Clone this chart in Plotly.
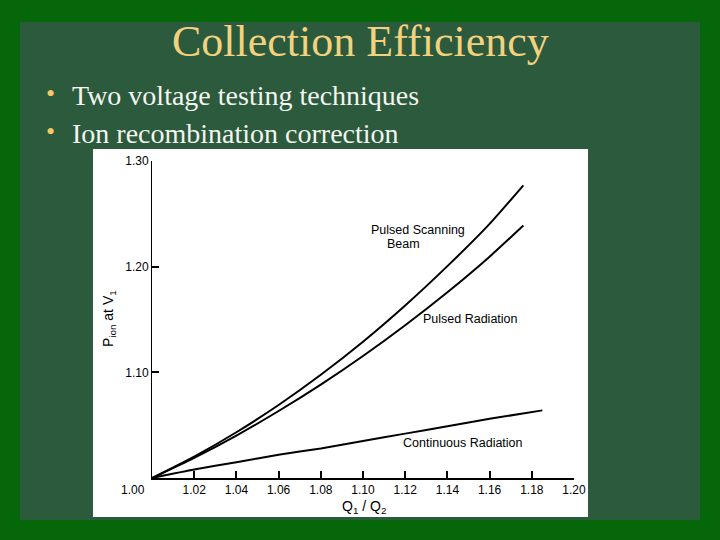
import plotly.graph_objects as go

# ---- data ----
x_upper = [1.00, 1.02, 1.04, 1.06, 1.08, 1.10, 1.12, 1.14, 1.16, 1.176]
y_scanning = [1.000, 1.0203, 1.0433, 1.0691, 1.0977, 1.129, 1.1633, 1.2005, 1.2405, 1.277]
y_pulsed = [1.000, 1.0191, 1.0402, 1.0634, 1.0884, 1.1155, 1.1446, 1.1758, 1.2095, 1.239]
x_cont = [1.00, 1.02, 1.04, 1.06, 1.08, 1.10, 1.12, 1.14, 1.16, 1.185]
y_cont = [1.000, 1.008, 1.015, 1.022, 1.028, 1.035, 1.042, 1.049, 1.056, 1.064]

x_ticks = [1.02, 1.04, 1.06, 1.08, 1.10, 1.12, 1.14, 1.16, 1.18, 1.20]
x_tick_text = ["1.02", "1.04", "1.06", "1.08", "1.10", "1.12", "1.14", "1.16", "1.18", "1.20"]
y_ticks = [1.10, 1.20, 1.30]
y_tick_text = ["1.10", "1.20", "1.30"]

W, H = 720, 540


def px(xp):
    return xp / W


def py(yp):
    return 1 - yp / H


fig = go.Figure()
line_style = dict(color="black", width=2, shape="spline", smoothing=0.6)
fig.add_trace(go.Scatter(x=x_upper, y=y_scanning, mode="lines", line=line_style, showlegend=False))
fig.add_trace(go.Scatter(x=x_upper, y=y_pulsed, mode="lines", line=line_style, showlegend=False))
fig.add_trace(go.Scatter(x=x_cont, y=y_cont, mode="lines", line=line_style, showlegend=False))

shapes = [
    # marble area
    dict(type="rect", xref="paper", yref="paper", x0=px(20), x1=px(700), y0=py(520), y1=py(22),
         fillcolor="#2b5a3d", line=dict(width=0), layer="below"),
    # white inset
    dict(type="rect", xref="paper", yref="paper", x0=px(93), x1=px(588), y0=py(517), y1=py(149),
         fillcolor="white", line=dict(width=0), layer="below"),
]

tick_font = dict(family="Liberation Sans, Arial, sans-serif", size=12, color="black")
label_font = dict(family="Liberation Sans, Arial, sans-serif", size=12.5, color="black")
serif = "Liberation Serif, Times New Roman, serif"

annotations = [
    dict(text="Collection Efficiency", xref="paper", yref="paper", x=px(360), y=py(42),
         showarrow=False, font=dict(family=serif, size=44, color="#f2d27e"),
         xanchor="center", yanchor="middle"),
    dict(text="•", xref="paper", yref="paper", x=px(50), y=py(93), showarrow=False,
         font=dict(family=serif, size=26, color="#f2c86a"), xanchor="center", yanchor="middle"),
    dict(text="Two voltage testing techniques", xref="paper", yref="paper", x=px(70), y=py(95),
         showarrow=False, font=dict(family=serif, size=28, color="#f4f4f0"),
         xanchor="left", yanchor="middle"),
    dict(text="•", xref="paper", yref="paper", x=px(50), y=py(131), showarrow=False,
         font=dict(family=serif, size=26, color="#f2c86a"), xanchor="center", yanchor="middle"),
    dict(text="Ion recombination correction", xref="paper", yref="paper", x=px(70), y=py(134),
         showarrow=False, font=dict(family=serif, size=28, color="#f4f4f0"),
         xanchor="left", yanchor="middle"),
    # corner label
    dict(text="1.00", xref="paper", yref="paper", x=px(133), y=py(490), showarrow=False,
         font=tick_font, xanchor="center", yanchor="middle"),
    # axis titles
    dict(text="P<sub>ion</sub> at V<sub>1</sub>", xref="paper", yref="paper", x=px(109), y=py(318),
         showarrow=False, textangle=-90,
         font=dict(family="Liberation Sans, Arial, sans-serif", size=14, color="black"),
         xanchor="center", yanchor="middle"),
    dict(text="Q<sub>1</sub> / Q<sub>2</sub>", xref="paper", yref="paper", x=px(364), y=py(507),
         showarrow=False, font=dict(family="Liberation Sans, Arial, sans-serif", size=14,
                                    color="black"), xanchor="center", yanchor="middle"),
    # curve labels
    dict(text="Pulsed Scanning", xref="paper", yref="paper", x=px(418), y=py(230), showarrow=False,
         font=label_font, xanchor="center", yanchor="middle"),
    dict(text="Beam", xref="paper", yref="paper", x=px(403), y=py(244), showarrow=False,
         font=label_font, xanchor="center", yanchor="middle"),
    dict(text="Pulsed Radiation", xref="paper", yref="paper", x=px(470), y=py(319), showarrow=False,
         font=label_font, xanchor="center", yanchor="middle"),
    dict(text="Continuous Radiation", xref="paper", yref="paper", x=px(463), y=py(443),
         showarrow=False, font=label_font, xanchor="center", yanchor="middle"),
]

fig.update_layout(
    width=W, height=H,
    margin=dict(l=0, r=0, t=0, b=0, pad=0, autoexpand=False),
    paper_bgcolor="#05660a",
    plot_bgcolor="rgba(0,0,0,0)",
    shapes=shapes,
    annotations=annotations,
    xaxis=dict(domain=[px(152), px(574)], range=[1.0, 1.2], showgrid=False, zeroline=False,
               automargin=False,
               showline=True, linecolor="black", linewidth=1.5,
               tickmode="array", tickvals=x_ticks, ticktext=x_tick_text,
               ticks="inside", ticklen=7, tickwidth=1.5, tickcolor="black",
               tickfont=tick_font, fixedrange=True),
    yaxis=dict(domain=[py(478), py(161)], range=[1.0, 1.3], showgrid=False, zeroline=False,
               automargin=False,
               showline=True, linecolor="black", linewidth=1,
               tickmode="array", tickvals=y_ticks, ticktext=y_tick_text,
               ticks="inside", ticklen=7, tickwidth=1.5, tickcolor="black",
               tickfont=tick_font, fixedrange=True),
)

fig.write_html(
    "out.html",
    config={"displayModeBar": False},
    post_script="document.body.style.margin='0';document.body.style.padding='0';"
                "document.body.style.overflow='hidden';",
)
